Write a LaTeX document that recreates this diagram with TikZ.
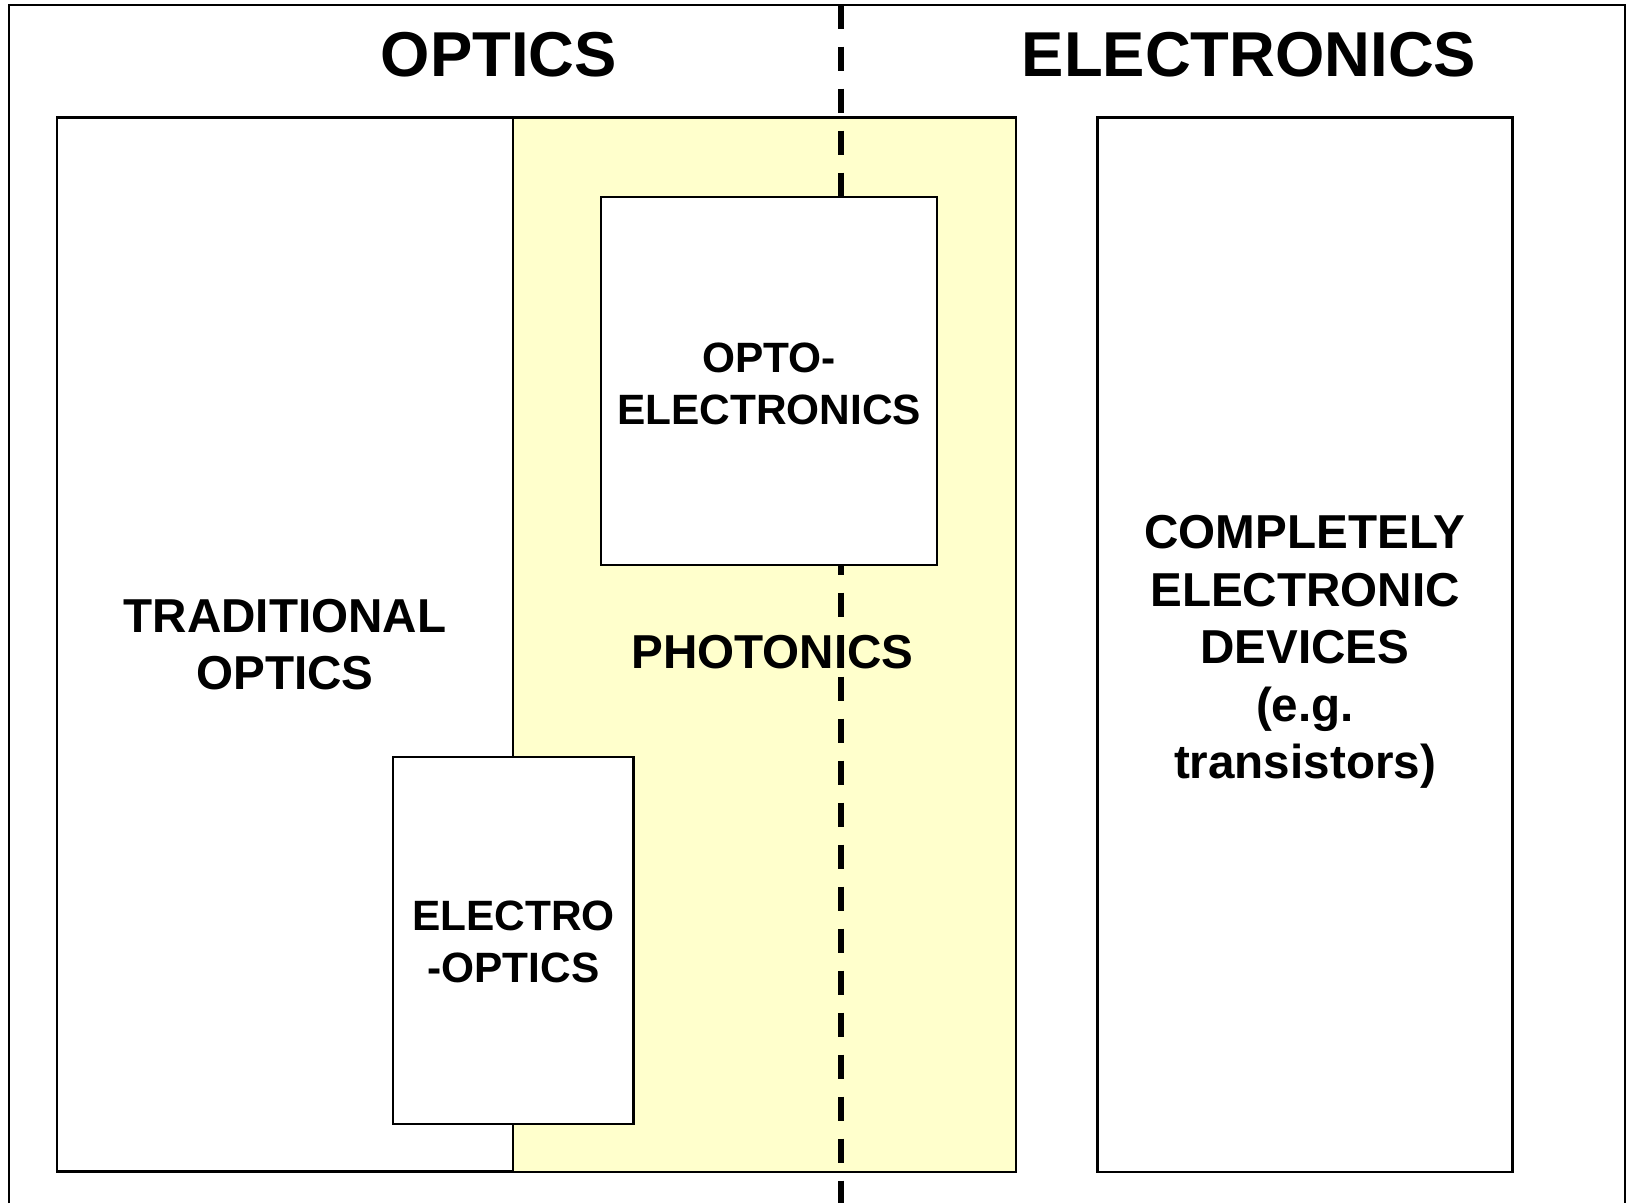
\documentclass[tikz,border=0pt]{standalone}
\usepackage{fontspec}
\setmainfont{Liberation Sans}
\usepackage{tikz}
\usetikzlibrary{calc}
\definecolor{paleyellow}{RGB}{255,255,204}

\begin{document}
\begin{tikzpicture}[x=1pt, y=-1pt,
  box/.style={draw=black, line width=2.2pt, inner sep=0pt, align=center,
    font=\bfseries\fontsize{47.6}{57.5}\selectfont},
  smallbox/.style={box, fill=white, font=\bfseries\fontsize{42.4}{52.5}\selectfont},
  heading/.style={inner sep=0pt, font=\bfseries\fontsize{63.4}{70}\selectfont},
  divider/.style={line width=5.6pt, dash pattern=on 24pt off 18pt}]
  \useasboundingbox (0,0) rectangle (1631,1203);
  \draw[line width=2.4pt] (9,1203) |- (1625,5) -- (1625,1203);

  \node[box, minimum width=455.6pt, minimum height=1054pt] (trad) at (285,644.5) {TRADITIONAL\\OPTICS};
  \node[box, fill=paleyellow, minimum width=503.5pt, minimum height=1054.8pt] (photo) at (764.6,644.9) {};
  \node[box, minimum width=415.1pt, minimum height=1054.8pt] (elec) at (1305,644.9) {};
  \node[box, draw=none] (eleclabel) at (1305,652) {COMPLETELY\\ELECTRONIC\\DEVICES\\(e.g.\\transistors)};

  \coordinate (divtop) at (840.8,4.7);
  \coordinate (divbot) at (840.8,1203);
  \draw[divider] (divtop) -- (divbot);

  \node[smallbox, minimum width=336pt, minimum height=368.2pt] (opto) at (769.2,380.7) {};
  \node[box, draw=none, font=\bfseries\fontsize{42.4}{52.5}\selectfont] (optolabel) at (769.2,384) {OPTO-\\ELECTRONICS};
  \node[smallbox, minimum width=240.3pt, minimum height=367pt] (eo) at (513.3,940.8) {};
  \node[box, draw=none, font=\bfseries\fontsize{42.4}{52.5}\selectfont] (eolabel) at (513.3,942) {ELECTRO\\-OPTICS};
  \node[box, draw=none] (photolabel) at (772.5,652) {PHOTONICS};

  \node[heading] (optics) at (499,54.6) {OPTICS};
  \node[heading] (electronics) at (1249,54.6) {ELECTRONICS};
\end{tikzpicture}
\end{document}
